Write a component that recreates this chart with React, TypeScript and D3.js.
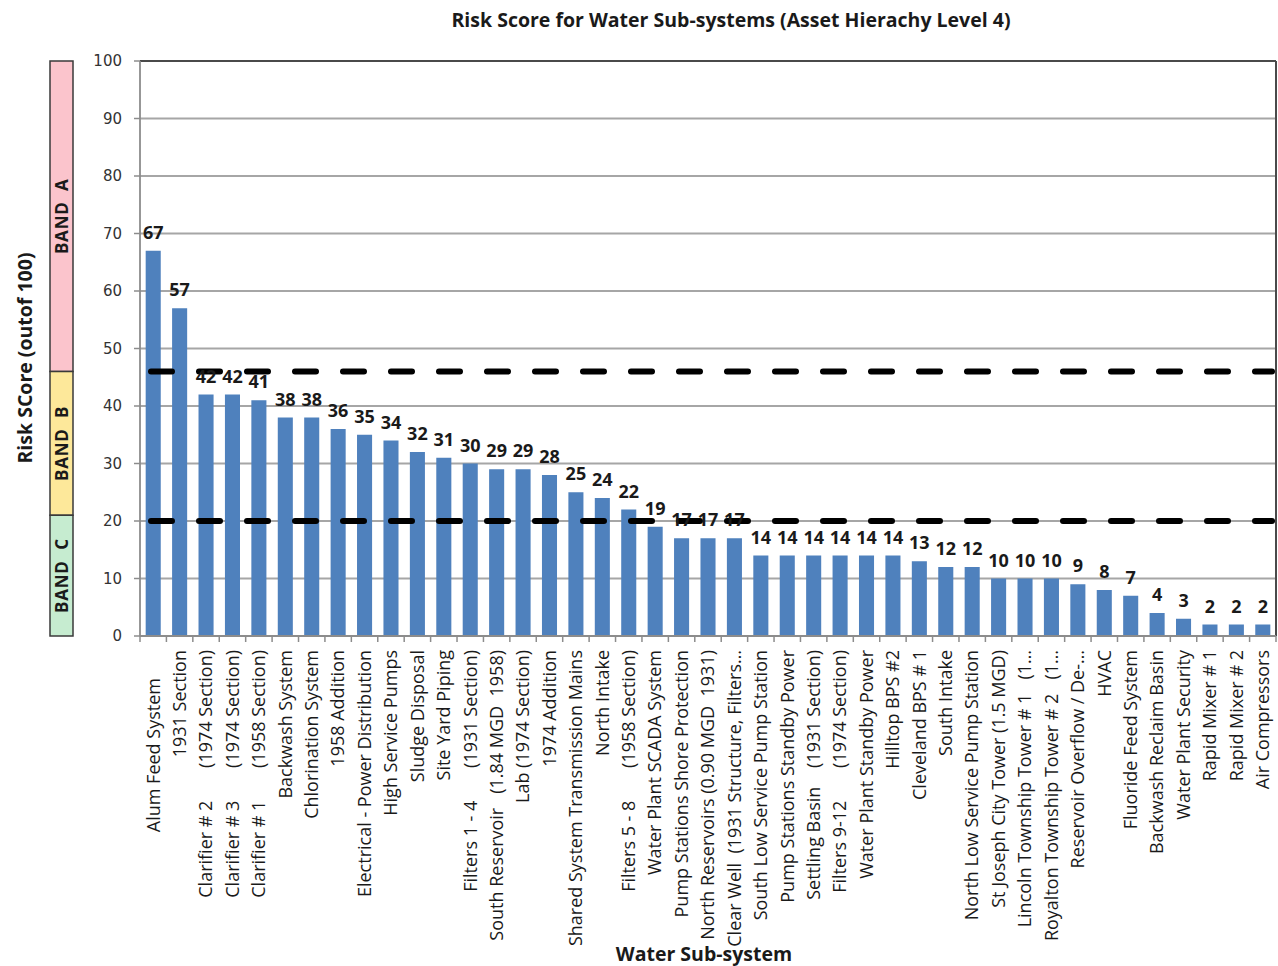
import React from "react";
import * as d3 from "d3";

// Sub-systems in ranked order and their risk scores (out of 100)
const subsystems: string[] = [
  "Alum Feed System      ",
  "1931 Section",
  "Clarifier # 2       (1974 Section)",
  "Clarifier # 3       (1974 Section)",
  "Clarifier # 1       (1958 Section)",
  "Backwash System",
  "Chlorination System",
  "1958 Addition",
  "Electrical - Power Distribution",
  "High Service Pumps",
  "Sludge Disposal",
  "Site Yard Piping",
  "Filters 1 - 4       (1931 Section)",
  "South Reservoir   (1.84 MGD  1958)",
  "Lab (1974 Section)",
  "1974 Addition",
  "Shared System Transmission Mains",
  "North Intake",
  "Filters 5 - 8       (1958 Section)",
  "Water Plant SCADA System",
  "Pump Stations Shore Protection",
  "North Reservoirs (0.90 MGD  1931)",
  "Clear Well  (1931 Structure, Filters…",
  "South Low Service Pump Station",
  "Pump Stations Standby Power",
  "Settling Basin    (1931 Section)",
  "Filters 9-12       (1974 Section)",
  "Water Plant Standby Power",
  "Hilltop BPS #2",
  "Cleveland BPS # 1",
  "South Intake",
  "North Low Service Pump Station",
  "St Joseph City Tower (1.5 MGD)",
  "Lincoln Township Tower # 1   (1…",
  "Royalton Township Tower # 2   (1…",
  "Reservoir Overflow / De-…",
  "HVAC",
  "Fluoride Feed System",
  "Backwash Reclaim Basin",
  "Water Plant Security",
  "Rapid Mixer # 1",
  "Rapid Mixer # 2",
  "Air Compressors",
];

const riskScores: number[] = [
  67, 57, 42, 42, 41, 38, 38, 36, 35, 34, 32, 31, 30, 29, 29, 28, 25, 24, 22,
  19, 17, 17, 17, 14, 14, 14, 14, 14, 14, 13, 12, 12, 10, 10, 10, 9, 8, 7, 4,
  3, 2, 2, 2,
];

// Band thresholds drawn as dashed reference lines
const bandThresholds: number[] = [46, 20];

// Side legend bands: label, lower bound, upper bound, fill
const bandNames: string[] = ["BAND  A", "BAND  B", "BAND  C"];
const bandLower: number[] = [46, 21, 0];
const bandUpper: number[] = [100, 46, 21];
const bandColors: string[] = ["#fbc4cc", "#fde89a", "#c6ecd0"];

const yTicks: number[] = [0, 10, 20, 30, 40, 50, 60, 70, 80, 90, 100];

const W = 1278;
const H = 966;
const margin = { left: 140, right: 2, top: 61, bottom: 330 };

const labelFont = "'Open Sans', 'Noto Sans', sans-serif";

export default function App() {
  const x = d3
    .scaleBand<number>()
    .domain(d3.range(subsystems.length))
    .range([margin.left, W - margin.right])
    .paddingInner(0.43)
    .paddingOuter(0.215);

  const xOuter = d3
    .scaleBand<number>()
    .domain(d3.range(subsystems.length))
    .range([margin.left, W - margin.right]);

  const y = d3.scaleLinear().domain([0, 100]).range([H - margin.bottom, margin.top]);
  const y0 = y(0);
  const xLeft = margin.left;
  const xRight = W - margin.right;

  return (
    <svg
      width={W}
      height={H}
      style={{ position: "absolute", left: 0, top: 0, background: "#fff" }}
    >
      {/* title */}
      <text
        x={731}
        y={27}
        textAnchor="middle"
        fontFamily={labelFont}
        fontWeight={700}
        fontSize={19.5}
        fill="#1a1a1a"
      >
        Risk Score for Water Sub-systems (Asset Hierachy Level 4)
      </text>

      {/* horizontal gridlines */}
      {yTicks.map((t) => (
        <line
          key={"g" + t}
          x1={xLeft}
          x2={xRight}
          y1={y(t)}
          y2={y(t)}
          stroke={t === 100 ? "#4a4a4a" : "#a6a6a6"}
          strokeWidth={t === 100 ? 2.2 : 1.8}
        />
      ))}
      {/* right border */}
      <line x1={xRight} x2={xRight} y1={y(100)} y2={y0} stroke="#4a4a4a" strokeWidth={2} />

      {/* bars */}
      {riskScores.map((v, i) => (
        <rect
          key={"b" + i}
          x={x(i)}
          y={y(v)}
          width={x.bandwidth()}
          height={y0 - y(v)}
          fill="#4f81bd"
        />
      ))}

      {/* y axis */}
      <line x1={xLeft} x2={xLeft} y1={y(100)} y2={y0} stroke="#8c8c8c" strokeWidth={1.8} />
      {yTicks.map((t) => (
        <g key={"yt" + t}>
          <line x1={xLeft - 6} x2={xLeft} y1={y(t)} y2={y(t)} stroke="#8c8c8c" strokeWidth={1.5} />
          <text
            x={122}
            y={y(t)}
            dy="0.36em"
            textAnchor="end"
            fontFamily="'DejaVu Sans', sans-serif"
            fontSize={15}
            fill="#333"
          >
            {t}
          </text>
        </g>
      ))}

      {/* x axis */}
      <line x1={xLeft} x2={xRight} y1={y0} y2={y0} stroke="#8c8c8c" strokeWidth={1.8} />
      {d3.range(subsystems.length + 1).map((i) => {
        const px = i < subsystems.length ? (xOuter(i) as number) : xRight;
        return (
          <line key={"xt" + i} x1={px} x2={px} y1={y0} y2={y0 + 6} stroke="#8c8c8c" strokeWidth={1.5} />
        );
      })}

      {/* threshold dashed lines */}
      {bandThresholds.map((b) => (
        <line
          key={"th" + b}
          x1={151}
          x2={xRight - 4}
          y1={y(b)}
          y2={y(b)}
          stroke="#000"
          strokeWidth={6}
          strokeDasharray="21 27"
          strokeLinecap="round"
        />
      ))}

      {/* value labels */}
      {riskScores.map((v, i) => (
        <text
          key={"v" + i}
          x={(x(i) as number) + x.bandwidth() / 2}
          y={y(v) - 12}
          textAnchor="middle"
          fontFamily={labelFont}
          fontWeight={700}
          fontSize={18}
          fill="#1a1a1a"
        >
          {v}
        </text>
      ))}

      {/* category labels */}
      {subsystems.map((s, i) => {
        const cx = (x(i) as number) + x.bandwidth() / 2;
        return (
          <text
            key={"c" + i}
            transform={`translate(${cx},${y0 + 14}) rotate(-90)`}
            dy="0.35em"
            textAnchor="end"
            fontFamily={labelFont}
            fontSize={18}
            fill="#1a1a1a"
            style={{ whiteSpace: "pre" }}
          >
            {s}
          </text>
        );
      })}

      {/* axis titles */}
      <text
        x={704}
        y={961}
        textAnchor="middle"
        fontFamily={labelFont}
        fontWeight={700}
        fontSize={19.5}
        fill="#1a1a1a"
      >
        Water Sub-system
      </text>
      <text
        transform={`translate(25,${358}) rotate(-90)`}
        dy="0.35em"
        textAnchor="middle"
        fontFamily={labelFont}
        fontWeight={700}
        fontSize={19.5}
        fill="#1a1a1a"
      >
        Risk SCore (outof 100)
      </text>

      {/* band legend column */}
      {bandNames.map((n, i) => {
        const top = y(bandUpper[i]);
        const bot = y(bandLower[i]);
        return (
          <g key={"band" + i}>
            <rect
              x={50}
              y={top}
              width={23}
              height={bot - top}
              fill={bandColors[i]}
              stroke="#3a3a3a"
              strokeWidth={1.5}
            />
            <text
              transform={`translate(62,${(top + bot) / 2}) rotate(-90)`}
              dy="0.35em"
              textAnchor="middle"
              fontFamily={labelFont}
              fontWeight={700}
              fontSize={17}
              letterSpacing={0.8}
              fill="#1a1a1a"
              style={{ whiteSpace: "pre" }}
            >
              {n}
            </text>
          </g>
        );
      })}
    </svg>
  );
}
